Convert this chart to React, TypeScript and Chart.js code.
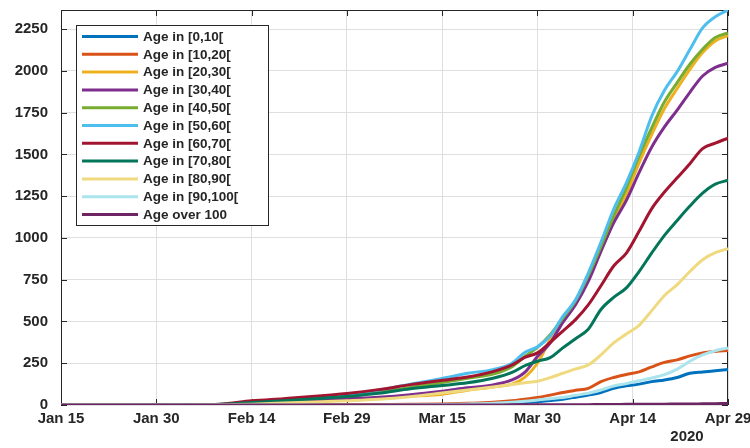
import React, { useEffect, useRef } from "react";
import { Chart, registerables } from "chart.js";

Chart.register(...registerables);

// Day index counted from Jan 15, 2020
const days = [0, 10, 20, 25, 30, 35, 40, 45, 50, 55, 60, 64, 68, 71, 73, 75, 77, 79, 81, 83, 85, 87, 89, 91, 93, 95, 97, 99, 101, 103, 105];

const xTickLabels = ["Jan 15", "Jan 30", "Feb 14", "Feb 29", "Mar 15", "Mar 30", "Apr 14", "Apr 29"];
const yTickValues = [0, 250, 500, 750, 1000, 1250, 1500, 1750, 2000, 2250];

const seriesLabels = [
  "Age in [0,10[",
  "Age in [10,20[",
  "Age in [20,30[",
  "Age in [30,40[",
  "Age in [40,50[",
  "Age in [50,60[",
  "Age in [60,70[",
  "Age in [70,80[",
  "Age in [80,90[",
  "Age in [90,100[",
  "Age over 100",
];

const age0_10 = [0, 0, 0, 0, 0, 0, 0, 0, 0, 1, 2, 4, 7, 10, 14, 20, 27, 35, 47, 60, 75, 100, 115, 125, 140, 150, 165, 190, 198, 205, 212];
const age10_20 = [0, 0, 0, 0, 0, 1, 1, 2, 3, 4, 6, 10, 16, 25, 35, 45, 59, 75, 88, 100, 140, 165, 183, 198, 228, 255, 270, 294, 312, 321, 326];
const age20_30 = [0, 0, 1, 2, 8, 18, 25, 33, 40, 52, 65, 88, 108, 125, 165, 250, 390, 505, 615, 760, 925, 1100, 1260, 1450, 1620, 1775, 1895, 2010, 2110, 2180, 2212];
const age30_40 = [0, 0, 1, 2, 8, 18, 28, 38, 47, 62, 83, 103, 120, 150, 195, 290, 370, 495, 600, 740, 920, 1090, 1225, 1391, 1545, 1665, 1766, 1872, 1970, 2022, 2046];
const age40_50 = [0, 0, 1, 3, 12, 28, 42, 58, 78, 105, 135, 160, 185, 230, 290, 345, 420, 520, 625, 775, 950, 1130, 1300, 1490, 1660, 1815, 1930, 2040, 2130, 2200, 2228];
const age50_60 = [0, 0, 2, 5, 15, 30, 42, 60, 90, 125, 159, 190, 212, 250, 315, 348, 413, 530, 630, 790, 975, 1172, 1330, 1515, 1730, 1884, 1996, 2128, 2258, 2325, 2365];
const age60_70 = [0, 0, 2, 5, 25, 38, 52, 69, 92, 122, 148, 168, 200, 240, 285, 312, 375, 443, 511, 599, 714, 832, 910, 1040, 1176, 1275, 1360, 1445, 1535, 1568, 1598];
const age70_80 = [0, 0, 1, 3, 15, 25, 38, 51, 70, 97, 117, 133, 160, 195, 235, 262, 284, 342, 397, 454, 572, 644, 701, 799, 911, 1016, 1105, 1191, 1268, 1322, 1346];
const age80_90 = [0, 0, 0, 1, 5, 12, 18, 25, 34, 50, 72, 90, 108, 123, 133, 142, 164, 190, 216, 240, 300, 372, 425, 477, 565, 656, 721, 799, 870, 912, 936];
const age90_100 = [0, 0, 0, 0, 0, 0, 0, 0, 0, 1, 3, 6, 10, 16, 22, 30, 38, 45, 58, 70, 90, 114, 128, 145, 162, 182, 215, 262, 300, 325, 342];
const ageOver100 = [0, 0, 0, 0, 0, 0, 0, 0, 0, 0, 0, 0, 0, 1, 1, 1, 1, 2, 2, 2, 3, 3, 4, 4, 5, 5, 6, 6, 7, 8, 9];

const seriesValues = [age0_10, age10_20, age20_30, age30_40, age40_50, age50_60, age60_70, age70_80, age80_90, age90_100, ageOver100];

const seriesColors = [
  "#0072BD",
  "#D95319",
  "#EDB120",
  "#7E2F8E",
  "#77AC30",
  "#4DBEEE",
  "#A2142F",
  "#03765A",
  "#F0DA80",
  "#ABE4EC",
  "#6E2563",
];

const FONT = "'Liberation Sans', Arial, Helvetica, sans-serif";
const TEXT = "#262626";

const decorPlugin = {
  id: "decor",
  beforeDatasetsDraw(chart: any) {
    const { ctx, chartArea: a, scales } = chart;
    const xs = scales.x;
    const ys = scales.y;
    ctx.save();
    ctx.strokeStyle = TEXT;
    ctx.lineWidth = 1;
    ctx.strokeRect(a.left + 0.5, a.top + 0.5, a.right - a.left - 1, a.bottom - a.top - 1);
    ctx.beginPath();
    const tl = 6;
    for (let i = 0; i < xTickLabels.length; i++) {
      const px = Math.round(xs.getPixelForValue(i * 15)) + 0.5;
      ctx.moveTo(px, a.bottom);
      ctx.lineTo(px, a.bottom - tl);
      ctx.moveTo(px, a.top);
      ctx.lineTo(px, a.top + tl);
    }
    for (const v of yTickValues) {
      const py = Math.round(ys.getPixelForValue(v)) + 0.5;
      ctx.moveTo(a.left, py);
      ctx.lineTo(a.left + tl, py);
      ctx.moveTo(a.right, py);
      ctx.lineTo(a.right - tl, py);
    }
    ctx.stroke();
    ctx.restore();
  },
  afterDatasetsDraw(chart: any) {
    const { ctx, chartArea: a } = chart;
    ctx.save();
    // legend box
    const bx = a.left + 15.5;
    const by = a.top + 15.5;
    const bw = 192;
    const bh = 200;
    ctx.fillStyle = "#ffffff";
    ctx.fillRect(bx, by, bw, bh);
    ctx.strokeStyle = TEXT;
    ctx.lineWidth = 1;
    ctx.strokeRect(bx, by, bw, bh);
    ctx.font = `bold 13.5px ${FONT}`;
    ctx.textBaseline = "middle";
    ctx.textAlign = "left";
    const ds = chart.data.datasets;
    for (let i = 0; i < ds.length; i++) {
      const yc = a.top + 26.5 + i * 17.8;
      ctx.strokeStyle = ds[i].borderColor;
      ctx.lineWidth = 3;
      ctx.beginPath();
      ctx.moveTo(a.left + 21, yc);
      ctx.lineTo(a.left + 77, yc);
      ctx.stroke();
      ctx.fillStyle = TEXT;
      ctx.fillText(ds[i].label, a.left + 82, yc + 0.5);
    }
    // year label
    ctx.font = `bold 15px ${FONT}`;
    ctx.textAlign = "center";
    ctx.fillStyle = TEXT;
    ctx.fillText("2020", a.right - 41, a.bottom + 32);
    ctx.restore();
  },
};

export default function App() {
  const ref = useRef<HTMLCanvasElement | null>(null);

  useEffect(() => {
    document.body.style.margin = "0";
    const canvas = ref.current;
    if (!canvas) return;
    const datasets = seriesValues.map((vals, i) => ({
      label: seriesLabels[i],
      data: days.map((d, j) => ({ x: d, y: vals[j] })),
      borderColor: seriesColors[i],
      backgroundColor: seriesColors[i],
      borderWidth: 3,
      pointRadius: 0,
      fill: false,
      cubicInterpolationMode: "monotone" as const,
      order: seriesValues.length - i,
    }));

    const chart = new Chart(canvas, {
      type: "line",
      data: { datasets },
      options: {
        responsive: false,
        animation: false,
        layout: { padding: { left: 0, right: 22, top: 10, bottom: 0 } },
        plugins: {
          legend: { display: false },
          tooltip: { enabled: false },
        },
        scales: {
          x: {
            type: "linear",
            min: 0,
            max: 105,
            grid: { color: "#dfdfdf", lineWidth: 1, drawTicks: false },
            border: { display: false },
            ticks: {
              stepSize: 15,
              includeBounds: false,
              autoSkip: false,
              maxRotation: 0,
              padding: 5,
              color: TEXT,
              font: { family: FONT, size: 15, weight: "bold" },
              callback: (v: any) => xTickLabels[Math.round(Number(v) / 15)] ?? "",
            },
            afterFit: (s: any) => {
              s.height = 43;
              s.paddingLeft = 0;
              s.paddingRight = 0;
            },
          },
          y: {
            type: "linear",
            min: 0,
            max: 2365,
            grid: { color: "#dfdfdf", lineWidth: 1, drawTicks: false },
            border: { display: false },
            ticks: {
              stepSize: 250,
              includeBounds: false,
              padding: 13,
              color: TEXT,
              font: { family: FONT, size: 15, weight: "bold" },
              callback: (v: any) => String(v),
            },
            afterFit: (s: any) => {
              s.width = 61;
              s.paddingTop = 0;
              s.paddingBottom = 0;
            },
          },
        },
      },
      plugins: [decorPlugin],
    });
    return () => chart.destroy();
  }, []);

  return (
    <div style={{ width: 750, height: 448 }}>
      <canvas ref={ref} width={750} height={448} style={{ display: "block", width: 750, height: 448 }} />
    </div>
  );
}
